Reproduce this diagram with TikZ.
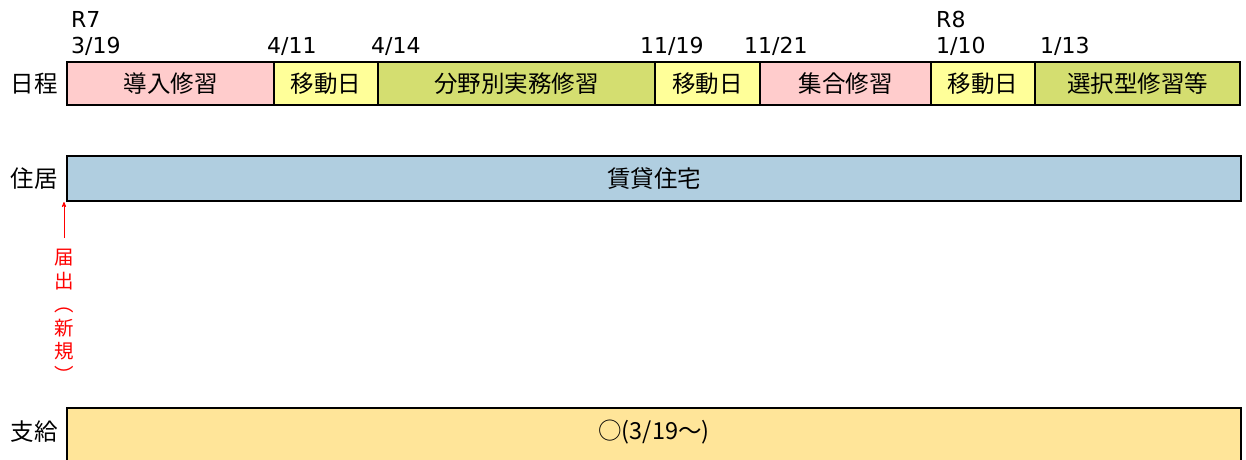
\documentclass[tikz,border=0pt]{standalone}
\usepackage{fontspec}
\setmainfont{DejaVu Sans}
\newfontfamily\jp{Noto Sans CJK JP}
\usepackage{xcolor}
\usetikzlibrary{arrows}
\definecolor{trainpink}{RGB}{255,204,204}
\definecolor{moveyellow}{RGB}{255,255,153}
\definecolor{fieldgreen}{RGB}{212,222,112}
\definecolor{houseblue}{RGB}{176,206,224}
\definecolor{paycream}{RGB}{255,229,153}

\tikzset{
  seg/.style = {rectangle, draw, line width=2pt, inner sep=0pt,
                minimum height=43pt},
  wide/.style = {rectangle, draw, line width=2pt, inner sep=0pt,
                 minimum width=1174pt},
  jtext/.style = {font=\jp\fontsize{23.5}{28}\selectfont, inner sep=0pt},
  datetext/.style = {font=\fontsize{22}{26}\selectfont, anchor=west, inner sep=0pt}
}

\begin{document}
\begin{tikzpicture}[x=1pt,y=-1pt,->,>=stealth']

    \useasboundingbox (0,0) rectangle (1246,459);

    % schedule row
    \node[seg, fill=trainpink,  minimum width=207pt] (intro)  at (170.5,83.5) {};
    \node[jtext] at (intro.center) {導入修習};
    \node[seg, fill=moveyellow, minimum width=104pt] (move1)  at (326,83.5) {};
    \node[jtext] at (move1.center) {移動日};
    \node[seg, fill=fieldgreen, minimum width=277pt] (field)  at (516.5,83.5) {};
    \node[jtext] at (field.center) {分野別実務修習};
    \node[seg, fill=moveyellow, minimum width=105pt] (move2)  at (707.5,83.5) {};
    \node[jtext] at (move2.center) {移動日};
    \node[seg, fill=trainpink,  minimum width=171pt] (group)  at (845.5,83.5) {};
    \node[jtext] at (group.center) {集合修習};
    \node[seg, fill=moveyellow, minimum width=104pt] (move3)  at (983,83.5) {};
    \node[jtext] at (move3.center) {移動日};
    \node[seg, fill=fieldgreen, minimum width=205pt] (select) at (1137.5,83.5) {};
    \node[jtext] at (select.center) {選択型修習等};

    % dates
    \node[datetext] (r7)    at (71,19)   {R7};
    \node[datetext] (d0319) at (71,46)   {3/19};
    \node[datetext] (d0411) at (267,46)  {4/11};
    \node[datetext] (d0414) at (371,46)  {4/14};
    \node[datetext] (d1119) at (640,46)  {11/19};
    \node[datetext] (d1121) at (744,46)  {11/21};
    \node[datetext] (r8)    at (936,19)  {R8};
    \node[datetext] (d0110) at (936,46)  {1/10};
    \node[datetext] (d0113) at (1040,46) {1/13};

    % housing row
    \node[wide, fill=houseblue, minimum height=45pt] (house) at (654,178.5) {};
    \node[jtext] at (house.center) {賃貸住宅};

    % payment row
    \node[wide, fill=paycream, minimum height=56pt] (pay) at (654,436) {};
    \node[jtext] at (654,432) {○(3/19～)};

    % row labels
    \node[jtext] (rowsched) at (34,83.5)  {日程};
    \node[jtext] (rowhouse) at (34,178.5) {住居};
    \node[jtext] (rowpay)   at (34,432)   {支給};

    % notification
    \node[jtext, text=red, align=center, anchor=north,
          font=\jp\fontsize{19.5}{23.5}\selectfont, inner sep=0pt]
          (notice) at (64,249) {届\\出\\︵\\新\\規\\︶};

    \path[red, line width=0.8pt]
    (notice.north) ++(0,-11) coordinate (arrowfoot)
    (arrowfoot) edge [] (arrowfoot |- house.south);

\end{tikzpicture}
\end{document}
